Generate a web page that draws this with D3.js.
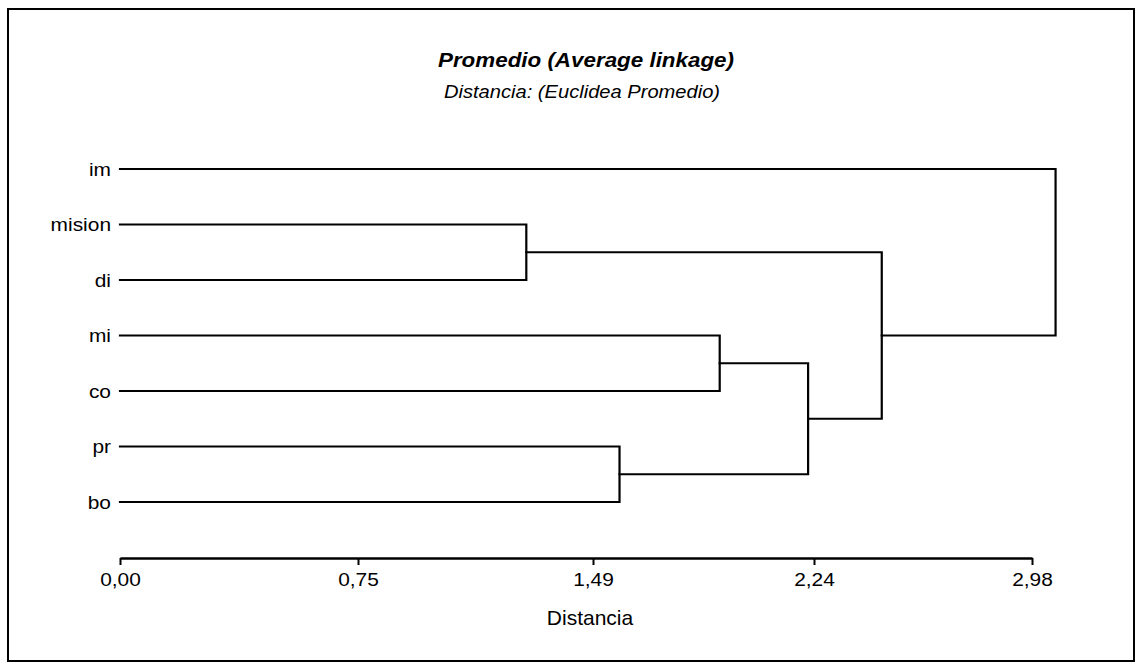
<!DOCTYPE html>
<html>
<head>
<meta charset="utf-8">
<script src="https://cdn.jsdelivr.net/npm/d3@7"></script>
<style>
  html, body { margin: 0; padding: 0; background: #fff; }
  svg { display: block; }
  text { font-family: "Liberation Sans", Arial, sans-serif; fill: #000; }
</style>
</head>
<body>
<svg id="chart" width="1136" height="663"></svg>
<script>
// ---- data ----
const leaves = ["im", "mision", "di", "mi", "co", "pr", "bo"];
// scipy-style linkage: ids 0..6 are leaves, 7.. are clusters in merge order
const mergeLeft   = [1, 5, 3, 9, 7, 0];
const mergeRight  = [2, 6, 4, 8, 10, 11];
const mergeHeight = [1.28, 1.58, 1.92, 2.22, 2.47, 3.06];
const tickValues  = [0, 0.75, 1.49, 2.24, 2.98];
const tickLabels  = ["0,00", "0,75", "1,49", "2,24", "2,98"];
const titleText    = "Promedio (Average linkage)";
const subtitleText = "Distancia: (Euclidea Promedio)";
const xAxisTitle   = "Distancia";

// ---- layout ----
const svg = d3.select("#chart");
// piecewise axis as printed in the reference
const x = d3.scaleLinear().domain(tickValues).range([120, 358, 593, 814, 1032]);
const y = d3.scalePoint().domain(leaves).range([169, 502]);

// frame
svg.append("rect")
  .attr("x", 8).attr("y", 9).attr("width", 1126).attr("height", 652)
  .attr("fill", "none").attr("stroke", "#000").attr("stroke-width", 2);

// titles
svg.append("text")
  .attr("transform", "translate(586,67) scale(1.12,1)")
  .attr("text-anchor", "middle")
  .style("font-size", "20px").style("font-weight", "bold").style("font-style", "italic")
  .text(titleText);
svg.append("text")
  .attr("transform", "translate(582,98) scale(1.15,1)")
  .attr("text-anchor", "middle")
  .style("font-size", "17.5px").style("font-style", "italic")
  .text(subtitleText);

// node positions
const nodeX = {}, nodeY = {};
leaves.forEach((l, i) => { nodeX[i] = x(0); nodeY[i] = y(l); });

const g = svg.append("g")
  .attr("fill", "none").attr("stroke", "#000").attr("stroke-width", 2.2)
  .attr("stroke-linecap", "square");

mergeHeight.forEach((h, k) => {
  const id = leaves.length + k;
  const a = mergeLeft[k], b = mergeRight[k];
  const xm = x(h);
  const path = d3.path();
  path.moveTo(nodeX[a], nodeY[a]);
  path.lineTo(xm, nodeY[a]);
  path.lineTo(xm, nodeY[b]);
  path.lineTo(nodeX[b], nodeY[b]);
  g.append("path").attr("d", path.toString());
  nodeX[id] = xm;
  nodeY[id] = (nodeY[a] + nodeY[b]) / 2;
});

// leaf labels
svg.append("g").selectAll("text")
  .data(leaves)
  .join("text")
  .attr("transform", d => `translate(111,${y(d)}) scale(1.1,1)`)
  .attr("dy", "0.36em")
  .attr("text-anchor", "end")
  .style("font-size", "19px")
  .text(d => d);

// x axis
const axis = d3.axisBottom(x)
  .tickValues(tickValues)
  .tickFormat((d, i) => tickLabels[i])
  .tickSizeInner(7)
  .tickSizeOuter(0)
  .tickPadding(8);

const ax = svg.append("g")
  .attr("transform", "translate(0,558)")
  .call(axis);
ax.select(".domain").attr("stroke", "#000").attr("stroke-width", 2.5);
ax.selectAll(".tick line").attr("stroke", "#000").attr("stroke-width", 2);
ax.selectAll(".tick text")
  .attr("font-family", null)
  .style("font-size", "19px")
  .attr("fill", "#000")
  .attr("transform", "scale(1.1,1)");

svg.append("text")
  .attr("x", 590).attr("y", 625)
  .attr("text-anchor", "middle")
  .style("font-size", "21px")
  .text(xAxisTitle);
</script>
</body>
</html>
